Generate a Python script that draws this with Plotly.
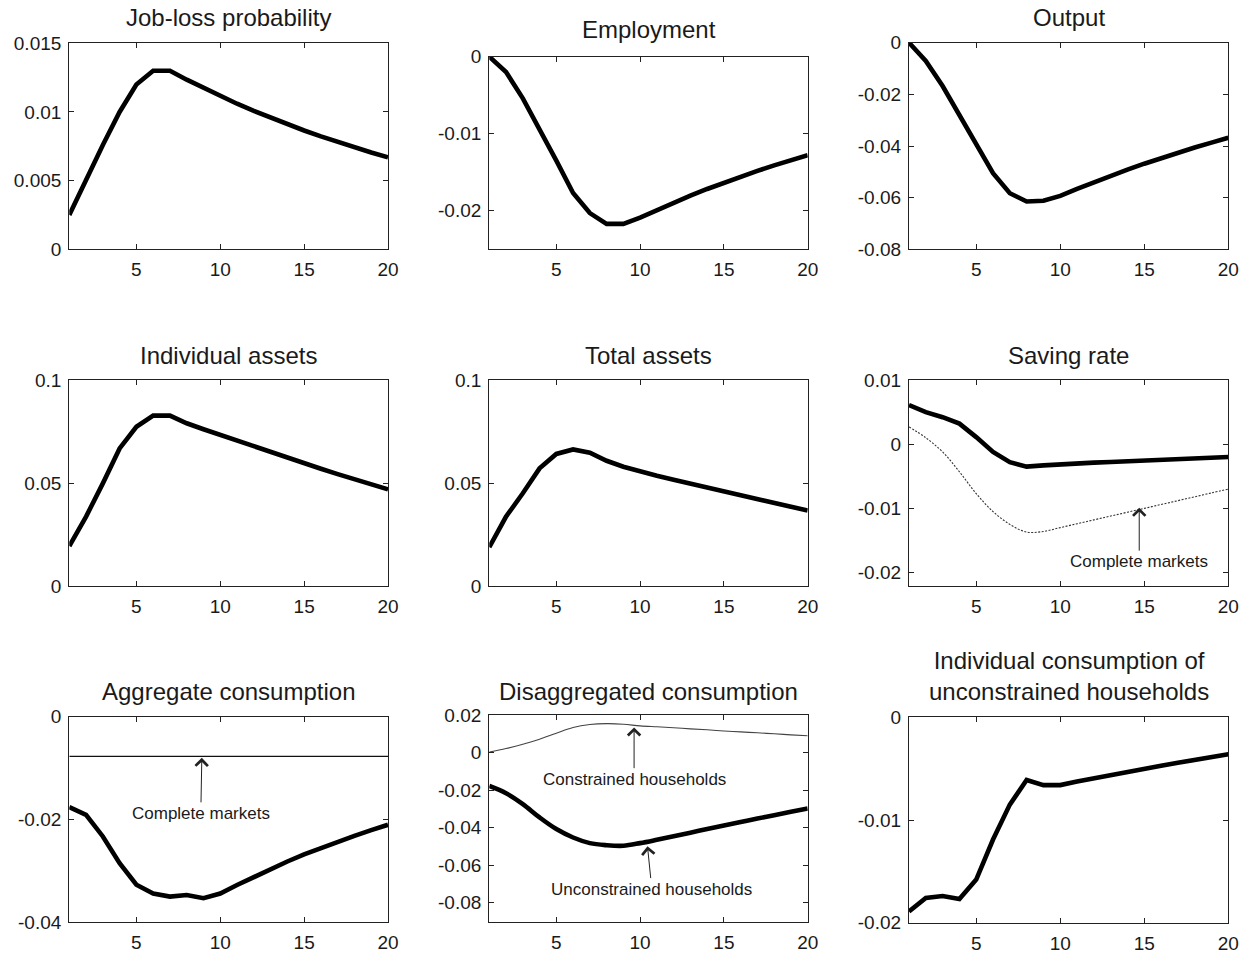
import plotly.graph_objects as go

# Horizon (quarters after the shock)
periods = list(range(1, 21))

# Impulse responses, one list per panel
job_loss_prob = [0.0025, 0.0051, 0.0076, 0.0100, 0.0120, 0.0130, 0.0130, 0.01235, 0.01174, 0.01116,
                 0.01060, 0.01008, 0.00958, 0.00910, 0.00865, 0.00822, 0.00781, 0.00742, 0.00705, 0.00670]
employment = [0.0, -0.0020, -0.0054, -0.0093, -0.0135, -0.0177, -0.0203, -0.0217, -0.0217, -0.0209,
              -0.01990, -0.01895, -0.01804, -0.01717, -0.01635, -0.01557, -0.01482, -0.01411, -0.01344, -0.01280]
output = [0.0, -0.0071, -0.0168, -0.0278, -0.0388, -0.0505, -0.0583, -0.0615, -0.0612, -0.0593,
          -0.05660, -0.05400, -0.05150, -0.04912, -0.04685, -0.04468, -0.04260, -0.04060, -0.03868, -0.03680]
individual_assets = [0.0194, 0.0337, 0.0498, 0.0668, 0.0773, 0.0827, 0.0827, 0.0790, 0.0761, 0.0733,
                     0.07047, 0.06768, 0.06493, 0.06222, 0.05955, 0.05692, 0.05433, 0.05178, 0.04927, 0.04690]
total_assets = [0.0188, 0.0337, 0.0450, 0.0571, 0.0641, 0.0663, 0.0647, 0.0608, 0.0579, 0.0555,
                0.05352, 0.05156, 0.04962, 0.04770, 0.04580, 0.04392, 0.04206, 0.04022, 0.03840, 0.03660]
saving_rate = [0.0061, 0.0050, 0.0042, 0.0032, 0.0011, -0.0012, -0.0028, -0.0035, -0.0033, -0.0031,
               -0.00299, -0.00288, -0.00277, -0.00266, -0.00255, -0.00244, -0.00233, -0.00222, -0.00211, -0.00200]
saving_rate_cm = [0.0027, 0.0010, -0.0012, -0.0043, -0.0077, -0.0105, -0.0125, -0.0137, -0.0136, -0.0130,
                  -0.0124, -0.0118, -0.0112, -0.0106, -0.0100, -0.0094, -0.0088, -0.0082, -0.0076, -0.0070]
agg_consumption = [-0.0176, -0.0191, -0.0233, -0.0285, -0.0327, -0.0344, -0.0350, -0.0347, -0.0353, -0.0344,
                   -0.03275, -0.03115, -0.02962, -0.02817, -0.02680, -0.02552, -0.02432, -0.02318, -0.02208, -0.02102]
agg_consumption_cm = [-0.0077, -0.0077, -0.0077, -0.0077, -0.0077, -0.0077, -0.0077, -0.0077, -0.0077, -0.0077,
                      -0.0077, -0.0077, -0.0077, -0.0077, -0.0077, -0.0077, -0.0077, -0.0077, -0.0077, -0.0077]
cons_constrained = [0.0002, 0.0021, 0.0044, 0.0071, 0.0103, 0.0133, 0.0149, 0.0154, 0.0151, 0.0142,
                    0.0137, 0.0132, 0.0126, 0.0121, 0.0115, 0.0110, 0.0105, 0.0100, 0.0094, 0.0089]
cons_unconstrained = [-0.0178, -0.0217, -0.0275, -0.0346, -0.0408, -0.0453, -0.0483, -0.0494, -0.0497, -0.0483,
                      -0.0465, -0.0446, -0.0427, -0.0408, -0.0389, -0.0370, -0.0352, -0.0334, -0.0316, -0.0298]
indiv_cons_unconstrained = [-0.0189, -0.0176, -0.0174, -0.0177, -0.0158, -0.0119, -0.0085, -0.0061, -0.0066, -0.0066,
                            -0.00626, -0.00593, -0.00561, -0.00530, -0.00500, -0.00471, -0.00443, -0.00415, -0.00388, -0.00360]

panel_titles = ["Job-loss probability", "Employment", "Output",
                "Individual assets", "Total assets", "Saving rate",
                "Aggregate consumption", "Disaggregated consumption",
                "Individual consumption of<br>unconstrained households"]

x_tick_vals = [5, 10, 15, 20]
x_tick_text = ["5", "10", "15", "20"]

y_ranges = [[0, 0.015], [-0.025, 0], [-0.08, 0],
            [0, 0.1], [0, 0.1], [-0.0221, 0.01],
            [-0.04, 0], [-0.0905, 0.02], [-0.02, 0]]
y_tick_vals = [[0, 0.005, 0.01, 0.015], [-0.02, -0.01, 0], [-0.08, -0.06, -0.04, -0.02, 0],
               [0, 0.05, 0.1], [0, 0.05, 0.1], [-0.02, -0.01, 0, 0.01],
               [-0.04, -0.02, 0], [-0.08, -0.06, -0.04, -0.02, 0, 0.02], [-0.02, -0.01, 0]]
y_tick_text = [["0", "0.005", "0.01", "0.015"], ["-0.02", "-0.01", "0"], ["-0.08", "-0.06", "-0.04", "-0.02", "0"],
               ["0", "0.05", "0.1"], ["0", "0.05", "0.1"], ["-0.02", "-0.01", "0", "0.01"],
               ["-0.04", "-0.02", "0"], ["-0.08", "-0.06", "-0.04", "-0.02", "0", "0.02"], ["-0.02", "-0.01", "0"]]

# Panel geometry in pixels (left, right, top, bottom) on a 1252 x 954 page
W, H = 1252, 954
boxes = [(69.3, 388.0, 43.3, 249.3), (489.3, 807.7, 56.7, 249.3), (909.0, 1228.3, 42.7, 249.3),
         (69.3, 388.0, 380.0, 586.0), (489.3, 807.7, 380.0, 586.0), (909.0, 1228.3, 380.0, 586.0),
         (69.3, 388.0, 716.7, 922.3), (489.3, 807.7, 715.0, 922.3), (909.0, 1228.3, 717.3, 922.7)]
title_y_px = [18, 30, 18, 355, 355, 355, 691, 691, 676]

FONT = "Liberation Sans, Arial, sans-serif"
INK = "#1a1a1a"

fig = go.Figure()

def add_line(panel, y, width=4.6, color="black", dash="solid", shape="linear"):
    fig.add_trace(go.Scatter(
        x=periods, y=y, mode="lines",
        line=dict(color=color, width=width, dash=dash, shape=shape),
        xaxis=f"x{panel}", yaxis=f"y{panel}", showlegend=False, hoverinfo="skip"))

add_line(1, job_loss_prob)
add_line(2, employment)
add_line(3, output)
add_line(4, individual_assets)
add_line(5, total_assets)
add_line(6, saving_rate_cm, width=1.1, color="#333", dash="2px,1.5px", shape="spline")
add_line(6, saving_rate)
add_line(7, agg_consumption_cm, width=1.3, color="#111")
add_line(7, agg_consumption)
add_line(8, cons_constrained, width=1.1, color="#444", shape="spline")
add_line(8, cons_unconstrained, shape="spline")
add_line(9, indiv_cons_unconstrained)

axis_common = dict(showline=True, linecolor="#222", linewidth=1.3, mirror="ticks",
                   ticks="inside", ticklen=5, tickwidth=1, tickcolor="#222",
                   showgrid=False, zeroline=False, fixedrange=True, automargin=False,
                   tickfont=dict(family=FONT, size=19, color=INK))

layout = dict(width=W, height=H, margin=dict(l=0, r=0, t=0, b=0, pad=0),
              paper_bgcolor="white", plot_bgcolor="white", showlegend=False)

annotations = []
for i, (l, r, t, b) in enumerate(boxes):
    n = i + 1
    layout[f"xaxis{n}"] = dict(axis_common, domain=[l / W, r / W], anchor=f"y{n}",
                               range=[1, 20], tickvals=x_tick_vals, ticktext=x_tick_text,
                               ticklabelstandoff=3)
    layout[f"yaxis{n}"] = dict(axis_common, domain=[1 - b / H, 1 - t / H], anchor=f"x{n}",
                               range=y_ranges[i], tickvals=y_tick_vals[i], ticktext=y_tick_text[i],
                               ticklabelstandoff=3)
    annotations.append(dict(text=panel_titles[i], xref="paper", yref="paper",
                            x=(l + r) / 2 / W, y=1 - title_y_px[i] / H,
                            xanchor="center", yanchor="middle", showarrow=False,
                            font=dict(family=FONT, size=24, color=INK)))

# Arrow labels: (panel, label, arrow tip x, tip y, label x, label y)
callouts = [(6, "Complete markets", 14.7, -0.0099, 14.7, -0.0183),
            (7, "Complete markets", 8.9, -0.0080, 8.84, -0.0188),
            (8, "Constrained households", 9.64, 0.0134, 9.64, -0.0142),
            (8, "Unconstrained households", 10.44, -0.0500, 10.7, -0.0728)]
for panel, label, tx, ty, lx, ly in callouts:
    annotations.append(dict(text=label, x=tx, y=ty, ax=lx, ay=ly,
                            xref=f"x{panel}", yref=f"y{panel}",
                            axref=f"x{panel}", ayref=f"y{panel}",
                            showarrow=True, arrowhead=4, arrowsize=2.4, arrowwidth=1,
                            arrowcolor="#222",
                            font=dict(family=FONT, size=17, color=INK)))

layout["annotations"] = annotations
fig.update_layout(**layout)
fig.write_html("out.html")
